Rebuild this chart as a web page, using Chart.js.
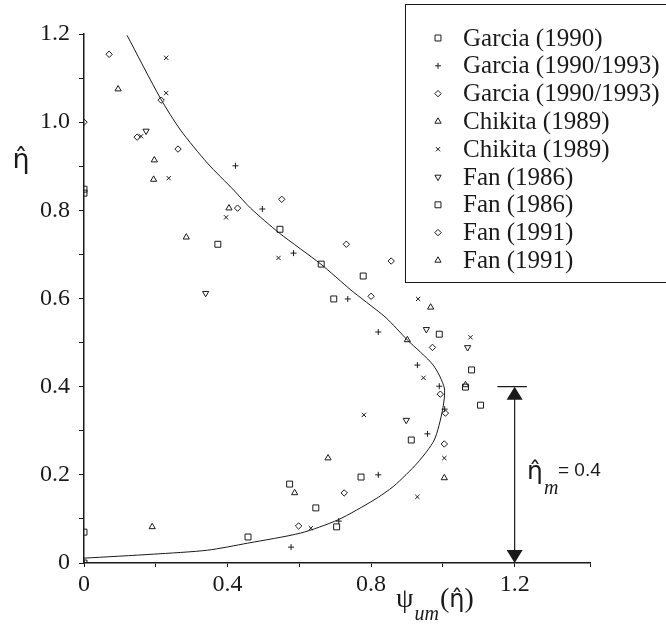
<!DOCTYPE html>
<html>
<head>
<meta charset="utf-8">
<script src="https://cdn.jsdelivr.net/npm/chart.js@4.4.1/dist/chart.umd.min.js"></script>
<style>
  html, body { margin: 0; padding: 0; background: #fff; }
  #wrap { width: 666px; height: 626px; }
</style>
</head>
<body>
<div id="wrap"><canvas id="chart" width="666" height="626"></canvas></div>
<script>
// Data: [psi_um, eta_hat]
const garcia1990 = [[0, 0.848], [0, 0.839], [0, 0.070], [0, 0], [0.457, 0.059], [0.646, 0.125],
  [0.704, 0.082], [0.573, 0.179], [0.772, 0.195], [0.912, 0.279]];
const garcia1993Plus = [[0, 0], [0.422, 0.901], [0.497, 0.803], [0.584, 0.703], [0.735, 0.599], [0.820, 0.524],
  [0.929, 0.449], [0.990, 0.401], [1.005, 0.349], [0.957, 0.293], [0.820, 0.200], [0.710, 0.095], [0.577, 0.036]];
const garcia1993Diamond = [[0.070, 1.154], [0.215, 1.050], [0, 1.0], [0.148, 0.966], [0.262, 0.939],
  [0.551, 0.825], [0.428, 0.805], [0.731, 0.723]];
const chikitaTriangle = [[0.095, 1.075], [0.196, 0.914], [0.194, 0.870], [0.404, 0.805], [0.285, 0.739],
  [0.190, 0.082]];
const chikitaCross = [[0.229, 1.146], [0.229, 1.066], [0.159, 0.968], [0.236, 0.873], [0.396, 0.784],
  [0.542, 0.692], [0.931, 0.599], [1.077, 0.512], [0.946, 0.420], [0.780, 0.336], [1.004, 0.238],
  [0.929, 0.150], [0.632, 0.079]];
const fan1986Down = [[0.173, 0.980], [0.339, 0.612], [0.954, 0.530], [1.069, 0.489], [0.898, 0.324]];
const fan1986Square = [[0.373, 0.723], [0.546, 0.757], [0.661, 0.678], [0.696, 0.599], [0.778, 0.651],
  [0.990, 0.519], [1.080, 0.438], [1.063, 0.399], [1.105, 0.358]];
const fan1991Diamond = [[0.856, 0.685], [0.800, 0.605], [0.971, 0.489], [0.993, 0.383], [1.007, 0.340],
  [1.004, 0.270], [0.725, 0.159], [0.598, 0.084]];
const fan1991Triangle = [[0.966, 0.580], [0.901, 0.506], [1.063, 0.404], [1.004, 0.193], [0.680, 0.238],
  [0.587, 0.159]];

// model curve
const curveX = [0, 0.193, 0.344, 0.456, 0.604, 0.708, 0.808, 0.864, 0.929, 0.976, 0.999, 1.004,
  0.973, 0.901, 0.842, 0.780, 0.744, 0.660, 0.545, 0.464, 0.417, 0.344, 0.269, 0.213, 0.120];
const curveY = [0.011, 0.020, 0.029, 0.045, 0.068, 0.098, 0.143, 0.175, 0.227, 0.279, 0.347, 0.397,
  0.449, 0.506, 0.556, 0.596, 0.619, 0.678, 0.748, 0.805, 0.846, 0.907, 0.982, 1.054, 1.197];

const seriesNames = ['Garcia (1990)', 'Garcia (1990/1993)', 'Garcia (1990/1993)', 'Chikita (1989)',
  'Chikita (1989)', 'Fan (1986)', 'Fan (1986)', 'Fan (1991)', 'Fan (1991)'];
const xTickLabels = [0, 0.4, 0.8, 1.2];
const yTickLabels = [0, 0.2, 0.4, 0.6, 0.8, 1.0, 1.2];

const etaM = 0.4;
const arrowX = 1.2;

const ink = '#1a1a1a';
const serif = '"Liberation Serif", "Times New Roman", serif';
const toPts = arr => arr.map(p => ({ x: p[0], y: p[1] }));

function markerSet(label, data, style, radius, rotation) {
    return {
        label: label,
        data: toPts(data),
        pointStyle: style,
        pointRotation: rotation || 0,
        pointRadius: radius,
        pointBorderWidth: 1,
        pointBorderColor: ink,
        pointBackgroundColor: 'rgba(0,0,0,0)',
        showLine: false
    };
}

const markerDefs = [
    [garcia1990, 'rect', 4.2, 0],
    [garcia1993Plus, 'cross', 3, 0],
    [garcia1993Diamond, 'rectRot', 3.2, 0],
    [chikitaTriangle, 'triangle', 3.6, 0],
    [chikitaCross, 'crossRot', 3, 0],
    [fan1986Down, 'triangle', 3.6, 180],
    [fan1986Square, 'rect', 4.2, 0],
    [fan1991Diamond, 'rectRot', 3.2, 0],
    [fan1991Triangle, 'triangle', 3.6, 0]
];

const datasets = markerDefs.map((d, i) => markerSet(seriesNames[i], d[0], d[1], d[2], d[3]));
datasets.push({
    label: 'curve',
    data: curveX.map((x, i) => ({ x: x, y: curveY[i] })),
    showLine: true,
    borderColor: ink,
    borderWidth: 1,
    pointRadius: 0,
    tension: 0.25,
    fill: false
});

function isLabelled(v, list) {
    return list.some(t => Math.abs(t - v) < 1e-6);
}

// drawing of legend, axis titles and the eta_m arrow
const extras = {
    id: 'extras',
    afterDraw(chart) {
        const ctx = chart.ctx;
        const xs = chart.scales.x, ys = chart.scales.y;
        ctx.save();
        ctx.strokeStyle = ink;

        // legend box
        ctx.lineWidth = 1;
        ctx.strokeRect(405.5, 4.5, 300, 278);
        ctx.textBaseline = 'middle';
        ctx.textAlign = 'left';
        ctx.font = '25px ' + serif;
        seriesNames.forEach((name, i) => {
            const y = 38 + i * 27.8;
            const def = markerDefs[i];
            ctx.fillStyle = 'rgba(0,0,0,0)';
            ctx.strokeStyle = ink;
            Chart.helpers.drawPoint(ctx, {
                pointStyle: def[1], rotation: def[3], radius: def[2], borderWidth: 1
            }, 438, y);
            ctx.fillStyle = ink;
            ctx.fillText(name, 463, y + 1);
        });

        ctx.fillStyle = ink;
        // y title
        ctx.textAlign = 'center';
        ctx.textBaseline = 'alphabetic';
        ctx.font = '27px "DejaVu Sans"';
        ctx.fillText('\u03B7\u0302', 21, 168);

        // x title  psi_um(eta)
        ctx.textAlign = 'left';
        let x = 396;
        ctx.font = '28px ' + serif;
        ctx.fillText('\u03C8', x, 607);
        x += ctx.measureText('\u03C8').width + 1;
        ctx.font = 'italic 20px ' + serif;
        ctx.fillText('um', x, 620);
        x += ctx.measureText('um').width + 1;
        ctx.font = '28px ' + serif;
        ctx.fillText('(', x, 607);
        x += ctx.measureText('(').width;
        ctx.font = '24px "DejaVu Sans"';
        ctx.fillText('\u03B7\u0302', x, 607);
        x += ctx.measureText('\u03B7\u0302').width;
        ctx.font = '28px ' + serif;
        ctx.fillText(')', x, 607);

        // eta_m arrow
        const ax = xs.getPixelForValue(arrowX);
        const yTop = ys.getPixelForValue(etaM);
        const yBot = ys.getPixelForValue(0);
        ctx.lineWidth = 1.2;
        ctx.beginPath();
        ctx.moveTo(xs.getPixelForValue(1.152), yTop);
        ctx.lineTo(xs.getPixelForValue(1.234), yTop);
        ctx.moveTo(ax, yTop + 8);
        ctx.lineTo(ax, yBot - 8);
        ctx.stroke();
        ctx.beginPath();
        ctx.moveTo(ax, yTop);
        ctx.lineTo(ax - 8, yTop + 13);
        ctx.lineTo(ax + 8, yTop + 13);
        ctx.closePath();
        ctx.moveTo(ax, yBot);
        ctx.lineTo(ax - 8, yBot - 13);
        ctx.lineTo(ax + 8, yBot - 13);
        ctx.closePath();
        ctx.fill();

        // eta_m label
        ctx.font = '25px "DejaVu Sans"';
        ctx.fillText('\u03B7\u0302', 527, 479);
        ctx.font = 'italic 20px ' + serif;
        ctx.fillText('m', 544, 494);
        ctx.font = '19px "Liberation Sans"';
        ctx.fillText('= ' + etaM.toFixed(1), 558, 476);

        ctx.restore();
    }
};

const ctx = document.getElementById('chart').getContext('2d');
const chart = new Chart(ctx, {
    type: 'scatter',
    data: { datasets: datasets },
    options: {
        responsive: false,
        animation: false,
        devicePixelRatio: 1,
        layout: { padding: { top: 34, right: 76, left: 0, bottom: 0 } },
        plugins: { legend: { display: false }, tooltip: { enabled: false } },
        scales: {
            x: {
                type: 'linear',
                min: 0,
                max: 1.41,
                afterFit: s => { s.height = 63; },
                border: { color: ink, width: 1.5 },
                grid: { drawOnChartArea: false, color: ink, tickLength: 4 },
                ticks: {
                    stepSize: 0.2,
                    color: ink,
                    padding: 3,
                    maxRotation: 0,
                    autoSkip: false,
                    font: { family: serif, size: 24 },
                    callback: v => isLabelled(v, xTickLabels) ? (v === 0 ? '0' : v.toFixed(1)) : ''
                }
            },
            y: {
                type: 'linear',
                min: 0,
                max: 1.2,
                afterFit: s => { s.width = 84; },
                border: { color: ink, width: 1.5 },
                grid: { drawOnChartArea: false, color: ink, tickLength: 5 },
                ticks: {
                    stepSize: 0.1,
                    color: ink,
                    padding: 9,
                    autoSkip: false,
                    font: { family: serif, size: 24 },
                    callback: v => isLabelled(v, yTickLabels) ? (v === 0 ? '0' : v.toFixed(1)) : ''
                }
            }
        }
    },
    plugins: [extras]
});
</script>
</body>
</html>
